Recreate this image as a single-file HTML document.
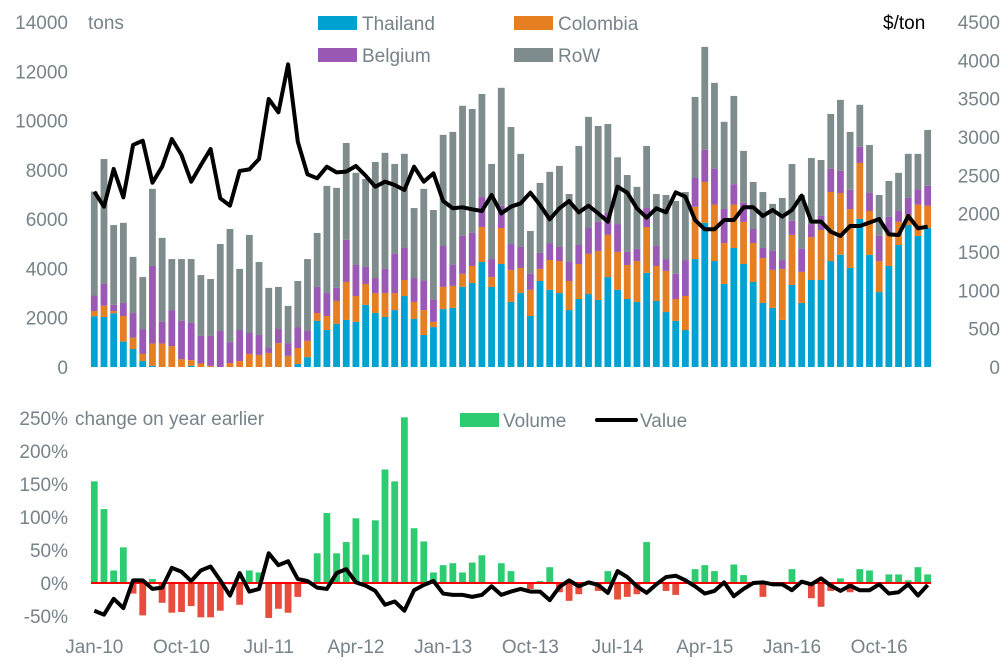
<!DOCTYPE html>
<html><head><meta charset="utf-8"><style>
body{margin:0;background:#fff;}
svg{display:block;font-family:"Liberation Sans",sans-serif;}
.t{fill:#76838a;font-size:19px;}
</style></head><body>
<svg id="c" width="1008" height="665" viewBox="0 0 1008 665">
<g id="g"></g>
</svg>
<script>
const months=["Jan-10","Oct-10","Jul-11","Apr-12","Jan-13","Oct-13","Jul-14","Apr-15","Jan-16","Oct-16"];
const monthIdx=[0,9,18,27,36,45,54,63,72,81];
const thailand=[2060,2030,2180,1030,730,240,50,0,0,0,50,0,0,0,0,0,0,0,0,0,0,120,400,1870,1500,1750,1910,1830,2520,2190,2030,2310,2880,1950,1300,1620,2350,2400,3250,3410,4260,3250,4180,2640,3000,2070,3490,3130,3000,2310,2760,2960,2720,3650,3130,2760,2640,3820,2680,2230,1870,1500,4380,5850,4300,3370,4830,4180,3450,2600,2400,1910,3330,2600,3530,3530,4300,4550,4020,6010,4550,3040,4100,4950,5760,5320,5640];
const colombiaTop=[2270,2490,2270,2070,1190,530,950,950,850,320,280,140,50,0,160,240,530,490,570,970,450,770,1060,2190,2070,2680,3450,2880,3370,3000,3000,3000,3530,2640,2310,1830,3250,3290,3780,4100,5680,3650,5640,3940,4020,3130,3980,4340,4300,3490,4180,4590,4710,5360,4670,4140,4300,5680,4100,3900,2760,2880,6500,7510,6590,5030,6590,5890,5030,4420,3940,3980,5360,3860,5270,5560,7100,7060,6410,8280,6330,4300,5360,5890,6170,6590,6540];
const belgiumTop=[2900,3370,2520,2600,2190,1540,4100,1830,2310,1870,1790,1260,1260,1460,1010,1500,1380,1300,770,1540,970,1620,1460,3250,3000,3210,5160,4140,4060,3610,3980,4590,4830,3610,3490,2720,4910,4140,5320,5440,6900,4380,6540,4990,4870,3780,4630,5030,4870,4260,4950,5640,5890,6250,5800,4670,4790,6450,4910,4380,3780,4340,7670,8810,8050,6410,7420,6660,5600,4830,4710,4340,5930,4790,5800,6130,8050,7960,7190,8930,7060,5320,6090,6330,6860,7200,7350];
const totalTons=[7120,8440,5760,5850,4470,3650,7230,5240,4380,4380,4380,3730,3570,4990,5600,3980,5360,4260,3210,3250,2480,3490,4380,5440,7350,7270,9090,7880,7630,8320,8690,8240,8650,6450,7230,6370,9420,9540,10600,10470,11080,8240,11330,9740,8650,5520,7470,7920,8160,7020,8970,10150,9780,9860,8510,7790,7310,8970,7020,6980,6740,7100,10960,12990,11530,9950,11000,8770,7510,7100,6620,6860,8240,6980,8480,8400,10270,10840,9540,10640,9010,6980,7550,7880,8650,8650,9620];
const price=[2287,2091,2583,2213,2896,2952,2404,2613,2974,2765,2417,2635,2843,2200,2104,2557,2578,2713,3496,3322,3948,2939,2513,2461,2613,2539,2548,2622,2496,2352,2417,2374,2309,2613,2417,2526,2165,2070,2083,2057,2035,2243,2004,2091,2135,2274,2113,1926,2070,2165,2017,2104,2004,1896,2352,2274,2070,1948,2070,2017,2278,2222,1917,1796,1796,1917,1917,2083,2083,1970,2048,1961,2048,2235,1896,1896,1765,1709,1839,1839,1883,1930,1730,1722,1970,1809,1830];
const volChange=[154,112,19,54,-16,-49,6,-30,-45,-44,-35,-52,-52,-42,-2,-33,19,16,-53,-39,-45,-21,0,45,106,45,62,98,43,95,172,154,251,83,63,16,27,30,16,31,42,0,30,18,0,-9,3,24,-14,-27,-17,0,-12,18,-25,-21,-17,62,0,-12,-18,0,21,27,18,0,28,12,0,-21,0,0,21,0,-23,-36,-12,7,-14,21,19,0,13,13,4,24,13];
const valChange=[-42,-48,-24,-38,4,4,-9,-7,23,17,3,19,25,4,-19,15,-13,-9,45,27,33,6,3,-7,-9,15,21,1,-4,-12,-33,-28,-42,-11,-3,3,-16,-18,-18,-21,-18,-5,-18,-13,-9,-13,-13,-26,-6,4,-5,1,-3,-15,18,9,-5,-15,-2,9,11,4,-5,-16,-12,1,-20,-9,0,1,-2,-2,-11,2,-2,7,-4,-12,-4,-11,-11,-2,-16,-14,-2,-19,-3];
const leftTicks=[0,2000,4000,6000,8000,10000,12000,14000];
const rightTicks=[0,500,1000,1500,2000,2500,3000,3500,4000,4500];
const pctTicks=[-50,0,50,100,150,200,250];

const NS="http://www.w3.org/2000/svg";
const g=document.getElementById('g');
function el(t,a,txt){const e=document.createElementNS(NS,t);for(const k in a)e.setAttribute(k,a[k]);if(txt!==undefined)e.textContent=txt;g.appendChild(e);return e;}
const x=i=>94.3+i*9.69;
const yL=v=>367-v*345/14000;
const yR=v=>367-v*345/4500;
const yP=v=>583-v*33/50;
const bw=6.8;

// axes labels
leftTicks.forEach(v=>{const e=el('text',{x:68,y:yL(v)+7,'text-anchor':'end',class:'t'},String(v));

});
rightTicks.forEach(v=>{const e=el('text',{x:1000,y:yR(v)+7,'text-anchor':'end',class:'t'},String(v));

});
pctTicks.forEach(v=>{const e=el('text',{x:68,y:yP(v)+7,'text-anchor':'end',class:'t'},v+'%');

});
months.forEach((m,k)=>{const e=el('text',{x:x(monthIdx[k]),y:653,'text-anchor':'middle',class:'t'},m);

});

// stacked bars
const cols=["#00a2d1","#e67e22","#9b59b6","#7f8c8d"];
const names=["bar-thailand","bar-colombia","bar-belgium","bar-row"];
totalTons.forEach((t,i)=>{
  const tops=[thailand[i],Math.max(colombiaTop[i],thailand[i]),Math.max(belgiumTop[i],colombiaTop[i],thailand[i]),t];
  let prev=0;
  tops.forEach((tp,s)=>{ if(tp>prev){const r=el('rect',{x:x(i)-bw/2,y:yL(tp),width:bw,height:yL(prev)-yL(tp),fill:cols[s]});
    
    }
    prev=Math.max(prev,tp);});
});
// price line
const pl=el('polyline',{points:price.map((v,i)=>x(i)+','+yR(v)).join(' '),fill:'none',stroke:'#000','stroke-width':4,'stroke-linejoin':'round'});



// bottom bars
volChange.forEach((v,i)=>{ if(v===0)return;
  const r=el('rect',{x:x(i)-bw/2,y:Math.min(yP(v),yP(0)),width:bw,height:Math.abs(yP(v)-yP(0)),fill:v>0?'#2ecc71':'#e74c3c'});
  
  });
const zl=el('line',{x1:91,x2:931,y1:yP(0),y2:yP(0),stroke:'#ff0000','stroke-width':2});


const vl=el('polyline',{points:valChange.map((v,i)=>x(i)+','+yP(v)).join(' '),fill:'none',stroke:'#000','stroke-width':4,'stroke-linejoin':'round'});


</script>
<svg width="1008" height="665" style="position:absolute;left:0;top:0">
<text x="88" y="29" class="t" font-family="Liberation Sans">tons</text>
<text x="883" y="29" font-size="19" fill="#000" font-family="Liberation Sans">$/ton</text>
<g><rect x="318" y="16" width="39" height="14" fill="#00a2d1"/><text x="362" y="30" class="t" font-family="Liberation Sans">Thailand</text></g>
<g><rect x="514" y="16" width="39" height="14" fill="#e67e22"/><text x="558" y="30" class="t" font-family="Liberation Sans">Colombia</text></g>
<g><rect x="318" y="48" width="39" height="14" fill="#9b59b6"/><text x="362" y="62" class="t" font-family="Liberation Sans">Belgium</text></g>
<g><rect x="514" y="48" width="39" height="14" fill="#7f8c8d"/><text x="558" y="62" class="t" font-family="Liberation Sans">RoW</text></g>
<text x="75" y="425" class="t" font-family="Liberation Sans">change on year earlier</text>
<g><rect x="460" y="413" width="39" height="14" fill="#2ecc71"/><text x="503" y="427" class="t" font-family="Liberation Sans">Volume</text></g>
<g><line x1="597" y1="420" x2="636" y2="420" stroke="#000" stroke-width="4" stroke-linecap="round"/><text x="640" y="427" class="t" font-family="Liberation Sans">Value</text></g>
</svg>
<style>body{position:relative;width:1008px;height:665px;overflow:hidden}</style>
</body></html>
